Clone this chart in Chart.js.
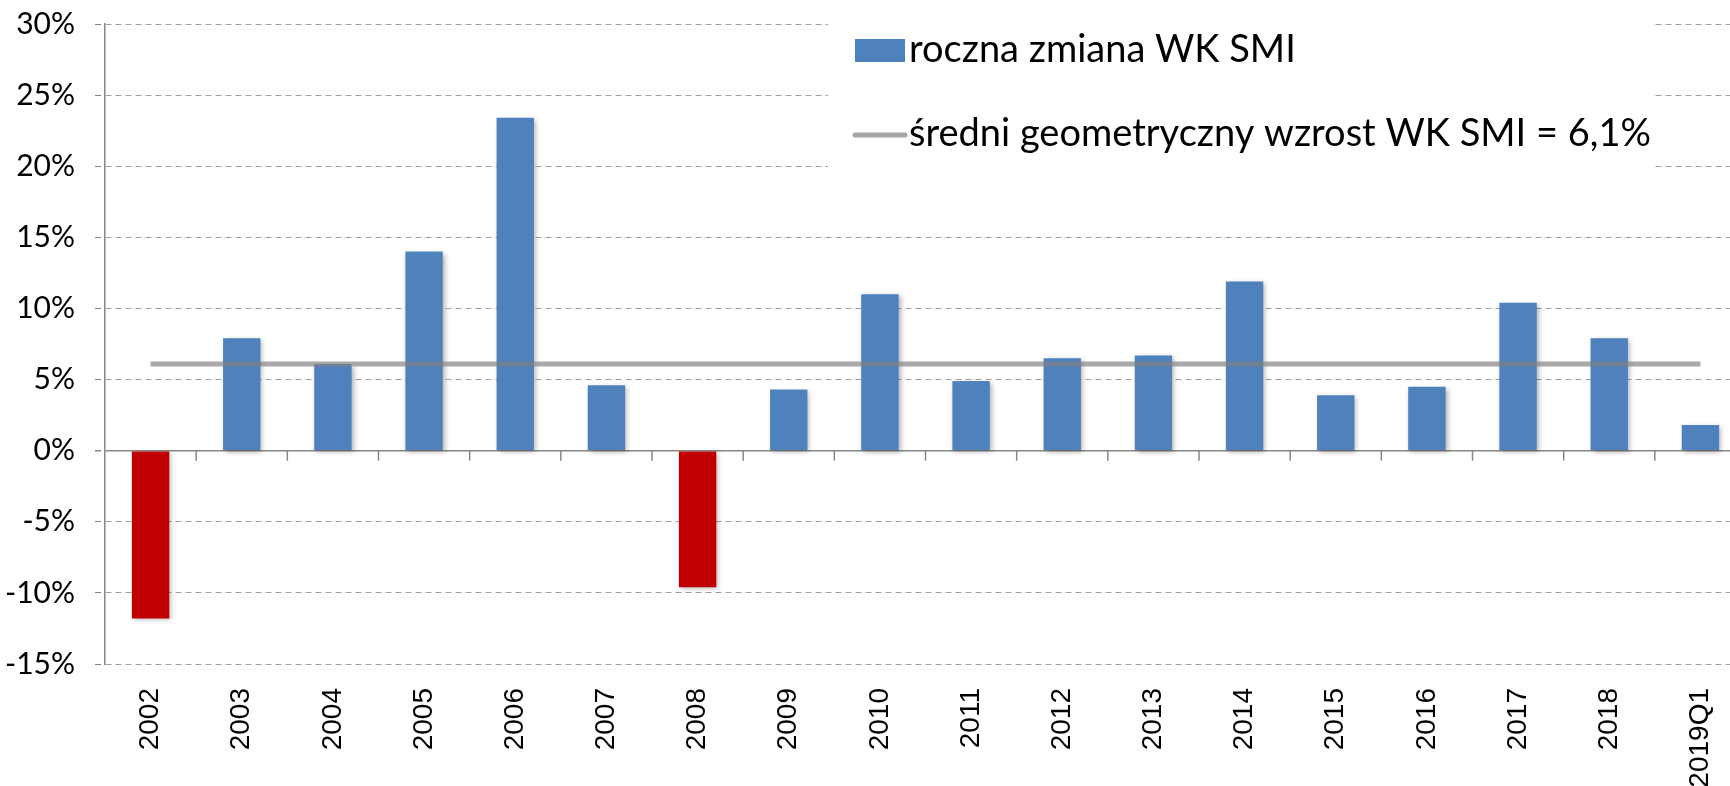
<!DOCTYPE html>
<html>
<head>
<meta charset="utf-8">
<script src="https://cdn.jsdelivr.net/npm/chart.js@4"></script>
<style>
  html, body { margin: 0; padding: 0; background: #fff; overflow: hidden; }
  /* the original plot runs a bit past the right edge of the picture, so the canvas is cut off */
  #wrap { width: 1730px; height: 786px; overflow: hidden; }
</style>
</head>
<body>
<div id="wrap"><canvas id="chart1" width="1746" height="786"></canvas></div>
<script>
var years = ["2002", "2003", "2004", "2005", "2006", "2007", "2008", "2009", "2010",
    "2011", "2012", "2013", "2014", "2015", "2016", "2017", "2018", "2019Q1"];
var annualChange = [-11.8, 7.9, 6.1, 14.0, 23.4, 4.6, -9.6, 4.3, 11.0,
    4.9, 6.5, 6.7, 11.9, 3.9, 4.5, 10.4, 7.9, 1.8];
var geoMean = [6.1, 6.1, 6.1, 6.1, 6.1, 6.1, 6.1, 6.1, 6.1,
    6.1, 6.1, 6.1, 6.1, 6.1, 6.1, 6.1, 6.1, 6.1];
var yTicks = { min: -15, max: 30, step: 5 };

var FONT = "Lato, 'Open Sans', sans-serif";

// legend drawn inside the plot, on a white box (like the Excel original)
var innerLegend = {
    id: "innerLegend",
    afterDatasetsDraw: function (chart) {
        var ctx = chart.ctx;
        var ds = chart.data.datasets;
        ctx.save();
        ctx.fillStyle = "#fff";
        ctx.fillRect(828, 12, 827, 166);
        ctx.font = "38px " + FONT;
        ctx.textBaseline = "middle";
        // bars
        ctx.fillStyle = "#4F81BD";
        ctx.fillRect(855, 39, 50, 23);
        ctx.fillStyle = "#000";
        ctx.fillText(ds[1].label, 909, 50);
        // line
        ctx.strokeStyle = "#A6A6A6";
        ctx.lineWidth = 5;
        ctx.lineCap = "round";
        ctx.beginPath();
        ctx.moveTo(855, 135);
        ctx.lineTo(905, 135);
        ctx.stroke();
        ctx.fillText(ds[0].label, 909, 134);
        ctx.restore();
    }
};

// small tick marks below the zero line, between categories
var zeroTicks = {
    id: "zeroTicks",
    afterDraw: function (chart) {
        var x = chart.scales.x, y = chart.scales.y;
        var ctx = chart.ctx;
        var y0 = y.getPixelForValue(0);
        ctx.save();
        ctx.strokeStyle = "#868686";
        ctx.lineWidth = 1.5;
        for (var i = 1; i < years.length; i++) {
            var px = (x.getPixelForValue(i - 1) + x.getPixelForValue(i)) / 2;
            ctx.beginPath();
            ctx.moveTo(px, y0);
            ctx.lineTo(px, y0 + 10);
            ctx.stroke();
        }
        ctx.restore();
    }
};

// soft shadow under the bars
var barShadow = {
    id: "barShadow",
    beforeDatasetDraw: function (chart, args) {
        if (args.meta.type !== "bar") return;
        var ctx = chart.ctx;
        ctx.save();
        ctx.shadowColor = "rgba(0,0,0,0.3)";
        ctx.shadowBlur = 5;
        ctx.shadowOffsetX = 2;
        ctx.shadowOffsetY = 2;
    },
    afterDatasetDraw: function (chart, args) {
        if (args.meta.type !== "bar") return;
        chart.ctx.restore();
    }
};

new Chart(document.getElementById("chart1"),
    {
        "type": "bar", "data": {
            "labels": years,
            "datasets": [{
                "type": "line",
                "label": "średni geometryczny wzrost WK SMI = 6,1%",
                "data": geoMean,
                "borderColor": "rgba(128, 128, 128, 0.68)",
                "borderWidth": 5,
                "pointRadius": 0,
                "fill": false,
                "order": 0
            },
            {
                "label": "roczna zmiana WK SMI",
                "data": annualChange,
                "backgroundColor": function (c) { return c.raw < 0 ? "#C00000" : "#4F81BD"; },
                "categoryPercentage": 1,
                "barPercentage": 0.41,
                "order": 1
            }]
        },
        "options": {
            "responsive": false,
            "animation": false,
            "layout": { "padding": { "top": 24, "right": 0, "left": 0, "bottom": 0 } },
            "plugins": { "legend": { "display": false }, "tooltip": { "enabled": false } },
            "scales": {
                "x": {
                    "grid": { "display": false },
                    "border": { "display": false },
                    "ticks": {
                        "minRotation": 90, "maxRotation": 90, "autoSkip": false,
                        "color": "#000", "padding": 16,
                        "font": { "family": "'Liberation Sans', Arial, sans-serif", "size": 28 }
                    },
                    "afterFit": function (s) { s.height = 122; s.paddingLeft = 0; s.paddingRight = 0; }
                },
                "y": {
                    "min": yTicks.min, "max": yTicks.max,
                    "ticks": {
                        "stepSize": yTicks.step, "color": "#000", "padding": 20,
                        "font": { "family": FONT, "size": 30 },
                        "callback": function (v) { return v + "%"; }
                    },
                    "grid": {
                        "color": function (c) { return c.tick && c.tick.value === 0 ? "#868686" : "#A0A0A0"; },
                        "lineWidth": function (c) { return c.tick && c.tick.value === 0 ? 1.5 : 1; },
                        "tickLength": 10,
                        "tickColor": "#868686",
                        "tickBorderDash": [6, 4]
                    },
                    "border": {
                        "display": true, "color": "#868686", "width": 1.5,
                        "dash": function (c) { return c.tick && c.tick.value === 0 ? [] : [6, 4]; }
                    },
                    "afterFit": function (s) { s.width = 105; s.paddingTop = 0; s.paddingBottom = 0; }
                }
            }
        },
        "plugins": [barShadow, innerLegend, zeroTicks]
    });
</script>
</body>
</html>
